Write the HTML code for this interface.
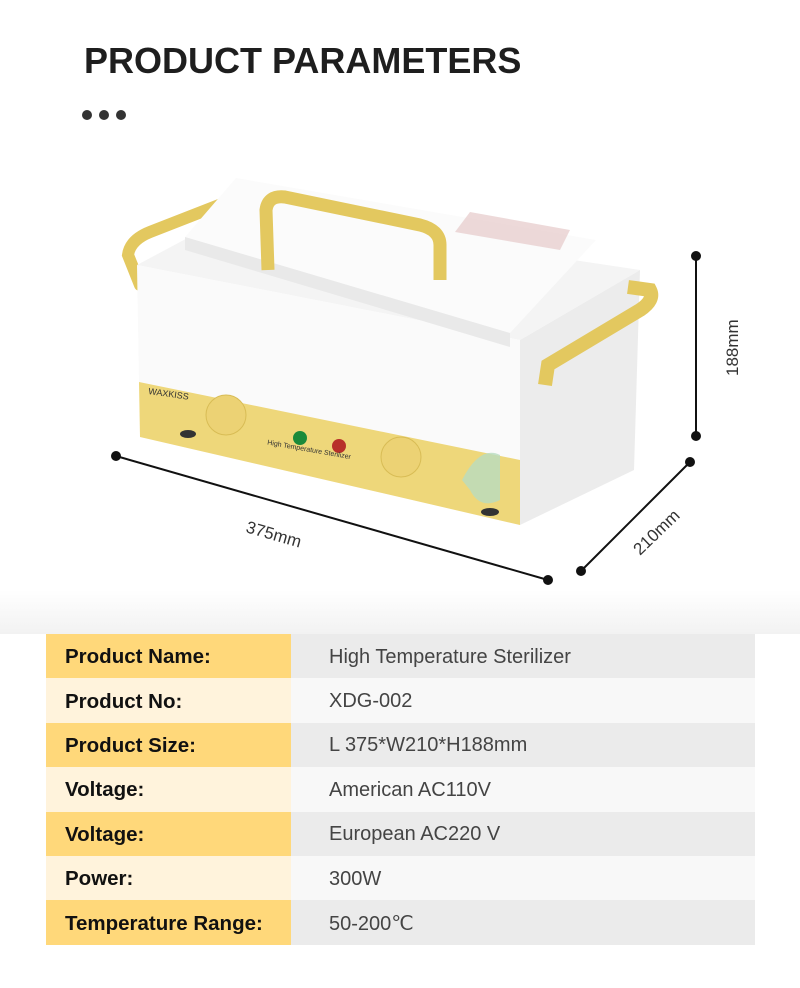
<!DOCTYPE html>
<html><head><meta charset="utf-8"><style>
body{margin:0;background:#fff;}
#w{position:relative;width:800px;height:988px;overflow:hidden;background:#fff;font-family:"Liberation Sans",sans-serif;}
h1{position:absolute;left:84px;top:40px;margin:0;font-size:36px;font-weight:bold;color:#1e1e1e;letter-spacing:0px;}
.dot{position:absolute;top:110px;width:10px;height:10px;border-radius:50%;background:#333;}
table{position:absolute;left:46px;top:634px;border-collapse:collapse;width:709px;}
td{height:44.4px;padding:0;padding-top:2px;box-sizing:border-box;}
td.l{width:245px;padding-left:19px;font-weight:bold;color:#111;font-size:20.5px;}
td.r{padding-left:38px;color:#444;font-size:20px;}
tr.a td.l{background:#ffd87a}tr.a td.r{background:#ebebeb}
tr.b td.l{background:#fff3dc}tr.b td.r{background:#f8f8f8}
</style></head><body><div id="w">
<div style="position:absolute;left:0;top:590px;width:800px;height:44px;background:linear-gradient(#fff,#f2f2f2)"></div>
<h1>PRODUCT PARAMETERS</h1>
<div class="dot" style="left:82px"></div><div class="dot" style="left:99px"></div><div class="dot" style="left:116px"></div>
<svg width="800" height="988" style="position:absolute;left:0;top:0">
<path d="M140,285 L128,255 Q130,240 150,232 L232,200" fill="none" stroke="#e3c85f" stroke-width="12" stroke-linecap="round"/>
<polygon points="520,340 640,270 634,470 520,525" fill="#ececec"/>
<polygon points="137,265 240,210 640,270 520,340" fill="#f4f4f4"/>
<polygon points="137,265 520,340 520,525 140,437" fill="#fafafa"/>
<polygon points="139,382 520,460 520,525 140,437" fill="#eed77a"/>
<polygon points="185,237 236,178 596,240 510,333" fill="#fbfbfb"/>
<polygon points="185,237 510,333 510,347 185,250" fill="#e9e9e9"/>
<polygon points="455,232 470,212 570,230 560,250" fill="#e8cfcf" opacity="0.8"/>
<path d="M268,270 L266,210 Q268,195 285,197 L420,225 Q440,230 440,245 L440,280" fill="none" stroke="#e3c85f" stroke-width="13"/>
<path d="M545,385 L548,365 L640,310 Q655,300 650,290 L628,287" fill="none" stroke="#e3c85f" stroke-width="14"/>
<ellipse cx="188" cy="434" rx="8" ry="4" fill="#333"/><ellipse cx="490" cy="512" rx="9" ry="4" fill="#333"/>
<circle cx="226" cy="415" r="20" fill="#ecd274" stroke="#d8bc55"/>
<circle cx="401" cy="457" r="20" fill="#ecd274" stroke="#d8bc55"/>
<circle cx="300" cy="438" r="7" fill="#1a8a3a"/><circle cx="339" cy="446" r="7" fill="#b8302a"/>
<path d="M462,480 Q480,445 500,455 L500,500 Q480,510 470,490Z" fill="#b8dcc0" opacity="0.8"/>
<text x="148" y="394" font-size="9" fill="#333" transform="rotate(8 148 394)">WAXKISS</text>
<text x="274" y="445" font-size="7" fill="#333" transform="rotate(10 274 405)">High Temperature Sterilizer</text>
<g stroke="#111" stroke-width="2"><line x1="116" y1="456" x2="548" y2="580"/><line x1="581" y1="571" x2="690" y2="462"/><line x1="696" y1="256" x2="696" y2="436"/></g>
<g fill="#111"><circle cx="116" cy="456" r="5"/><circle cx="548" cy="580" r="5"/><circle cx="581" cy="571" r="5"/><circle cx="690" cy="462" r="5"/><circle cx="696" cy="256" r="5"/><circle cx="696" cy="436" r="5"/></g>
<g font-size="17" fill="#333"><text x="245" y="532" transform="rotate(16 245 532)">375mm</text>
<text x="640" y="556" transform="rotate(-44 640 556)">210mm</text>
<text x="738" y="376" transform="rotate(-90 738 376)">188mm</text></g>
</svg>
<table>
<tr class="a"><td class="l">Product Name:</td><td class="r">High Temperature Sterilizer</td></tr>
<tr class="b"><td class="l">Product No:</td><td class="r">XDG-002</td></tr>
<tr class="a"><td class="l">Product Size:</td><td class="r">L 375*W210*H188mm</td></tr>
<tr class="b"><td class="l">Voltage:</td><td class="r">American AC110V</td></tr>
<tr class="a"><td class="l">Voltage:</td><td class="r">European AC220 V</td></tr>
<tr class="b"><td class="l">Power:</td><td class="r">300W</td></tr>
<tr class="a"><td class="l">Temperature Range:</td><td class="r">50-200℃</td></tr>
</table>
</div></body></html>
